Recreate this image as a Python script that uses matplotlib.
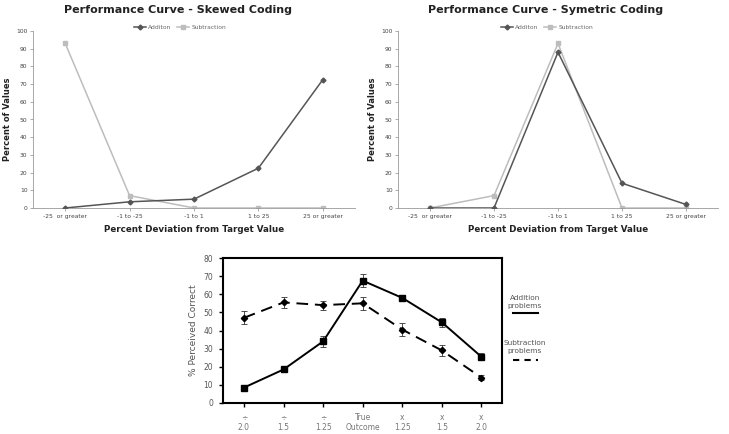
import matplotlib
matplotlib.use("Agg")
import matplotlib.pyplot as plt
from matplotlib.lines import Line2D

# ---------------- data ----------------
dev_categories = ["-25  or greater", "-1 to -25", "-1 to 1", "1 to 25", "25 or greater"]
skewed_addition = [0, 3.5, 5, 22.5, 72.5]
skewed_subtraction = [93, 7, 0, 0, 0]
sym_addition = [0, 0, 88, 14, 2]
sym_subtraction = [0, 7, 93, 0, 0]

perc_labels = ["÷\n2.0", "÷\n1.5", "÷\n1.25", "True\nOutcome", "x\n1.25", "x\n1.5", "x\n2.0"]
perc_addition = [8.5, 18.5, 34, 67.5, 58, 44.5, 25.5]
perc_addition_err = [1, 1.5, 3, 3.5, 1.5, 2.5, 2]
perc_subtraction = [47, 55.5, 54, 55, 40.5, 29, 14]
perc_subtraction_err = [3.5, 3, 2.5, 3.5, 3.5, 3, 1.5]

W, H = 729, 434
fig = plt.figure(figsize=(W / 100, H / 100), dpi=100)
plt.rcParams['font.family'] = ['DejaVu Sans']


def ax_px(x0, y0, x1, y1):
    return fig.add_axes([x0 / W, 1 - y1 / H, (x1 - x0) / W, (y1 - y0) / H])


add_col = "#555555"
sub_col = "#bdbdbd"


def top_panel(ax, add, sub, title, cx, legx):
    xs = range(len(dev_categories))
    ax.plot(xs, sub, color=sub_col, marker="s", ms=3.5, lw=1.1, label="Subtraction", zorder=2)
    ax.plot(xs, add, color=add_col, marker="D", ms=2.5, lw=1.1, label="Additon", zorder=3)
    ax.set_xlim(-0.5, 4.5)
    ax.set_ylim(0, 100)
    ax.set_yticks(range(0, 101, 10))
    ax.set_xticks(list(xs))
    ax.set_xticklabels(dev_categories)
    ax.tick_params(labelsize=4.3, length=2, width=0.5, colors="#888888", labelcolor="#444444", pad=2)
    for s in ["top", "right"]:
        ax.spines[s].set_visible(False)
    for s in ["left", "bottom"]:
        ax.spines[s].set_color("#999999")
        ax.spines[s].set_linewidth(0.6)
    ax.set_ylabel("Percent of Values", fontsize=6, fontweight="bold", color="#222222", labelpad=3)
    ax.set_xlabel("Percent Deviation from Target Value", fontsize=6.3, fontweight="bold", color="#222222", labelpad=5)
    fig.text(cx / W, 1 - 10 / H, title, ha="center", va="center", fontsize=8, fontweight="bold", color="#222222")
    h, l = ax.get_legend_handles_labels()
    ax.legend(h[::-1], l[::-1], loc="lower center", bbox_to_anchor=(legx, 0.99), ncol=2, frameon=False,
              fontsize=4.3, handlelength=2.0, columnspacing=1.0, borderaxespad=0, handletextpad=0.3,
              labelcolor="#666666")


ax1 = ax_px(33, 31, 355, 208)
top_panel(ax1, skewed_addition, skewed_subtraction, "Performance Curve - Skewed Coding", 178, 0.457)
ax2 = ax_px(398, 31, 718, 208)
top_panel(ax2, sym_addition, sym_subtraction, "Performance Curve - Symetric Coding", 546, 0.466)

# ---------------- bottom panel ----------------
ax3 = ax_px(223, 258, 502, 403)
xs = range(len(perc_labels))
ax3.errorbar(xs, perc_addition, yerr=perc_addition_err, color="black", lw=1.4, marker="s", ms=5,
             capsize=2.5, elinewidth=0.6, ecolor="#333333", capthick=0.6)
ax3.errorbar(xs, perc_subtraction, yerr=perc_subtraction_err, color="black", lw=1.4, marker="D", ms=3.2,
             capsize=2.5, elinewidth=0.6, ecolor="#333333", capthick=0.6, dashes=(6, 3.5))
ax3.set_xlim(-0.53, 6.52)
ax3.set_ylim(0, 80)
ax3.set_yticks(range(0, 81, 10))
ax3.set_xticks(list(xs))
ax3.set_xticklabels(perc_labels)
for s in ax3.spines.values():
    s.set_linewidth(1.5)
ax3.tick_params(labelsize=5.5, length=3, width=1, labelcolor="#555555", pad=4)
ax3.tick_params(axis="x", labelcolor="#777777")
ax3.set_ylabel("% Perceived Correct", fontsize=6.5, color="#555555", labelpad=4)

fig.text(525 / W, 1 - 302 / H, "Addition\nproblems", ha="center", va="center", fontsize=5.3,
         color="#555555", linespacing=1.4)
fig.add_artist(Line2D([513 / W, 538 / W], [1 - 313 / H, 1 - 313 / H], color="black", lw=1.5,
                      transform=fig.transFigure))
fig.text(525 / W, 1 - 347 / H, "Subtraction\nproblems", ha="center", va="center", fontsize=5.3,
         color="#555555", linespacing=1.4)
fig.add_artist(Line2D([513 / W, 538 / W], [1 - 360 / H, 1 - 360 / H], color="black", lw=1.5,
                      dashes=(3, 2.5), transform=fig.transFigure))

fig.savefig("out.png", dpi=100)
